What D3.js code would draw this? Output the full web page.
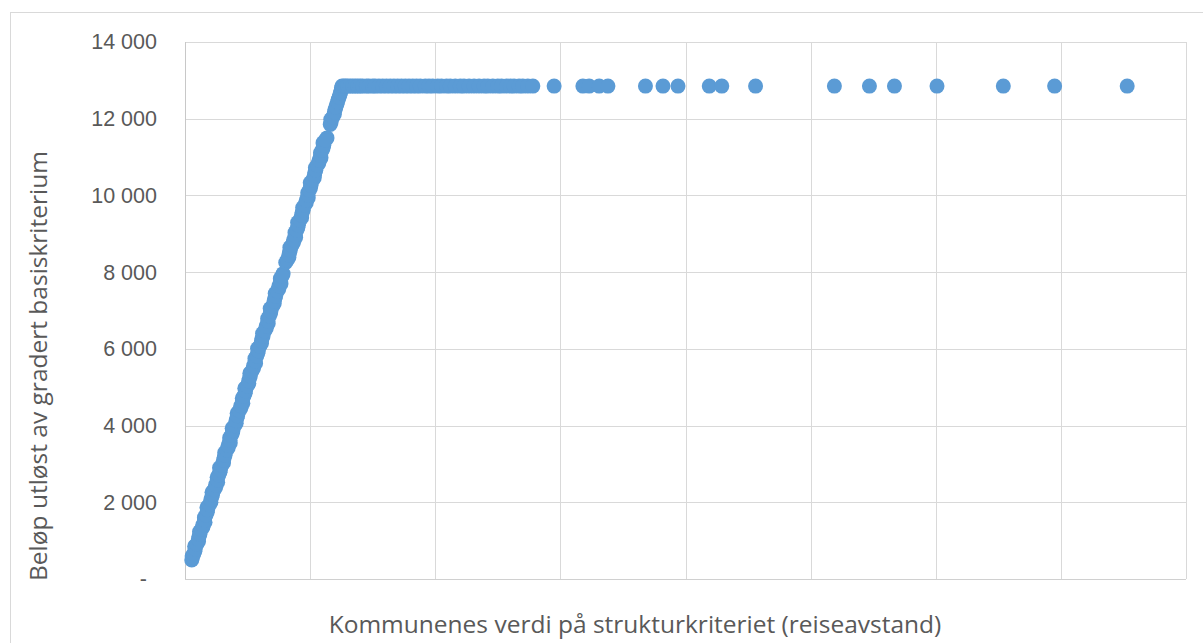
<!DOCTYPE html>
<html>
<head>
<meta charset="utf-8">
<script src="https://cdn.jsdelivr.net/npm/d3@7"></script>
<style>
  body { margin: 0; background: #fff; }
  svg { display: block; font-family: "Open Sans", "Noto Sans", sans-serif; }
</style>
</head>
<body>
<svg id="chart" width="1203" height="643"></svg>
<script>
// rising part of the curve (x = structure criterion, y = amount)
var riseX = [0.054, 0.057, 0.078, 0.077, 0.108, 0.112, 0.116, 0.143, 0.160, 0.155,
  0.177, 0.176, 0.207, 0.212, 0.216, 0.245, 0.261, 0.257, 0.279, 0.276,
  0.308, 0.313, 0.317, 0.345, 0.362, 0.357, 0.378, 0.377, 0.409, 0.413,
  0.417, 0.446, 0.462, 0.458, 0.480, 0.478, 0.510, 0.515, 0.518, 0.547,
  0.564, 0.559, 0.581, 0.580, 0.611, 0.616, 0.620, 0.649, 0.665, 0.661,
  0.683, 0.681, 0.713, 0.718, 0.721, 0.750, 0.767, 0.762, 0.784, 0.805,
  0.830, 0.835, 0.838, 0.867, 0.884, 0.879, 0.901, 0.900, 0.932, 0.936,
  0.940, 0.969, 0.985, 0.981, 1.003, 1.001, 1.033, 1.038, 1.042, 1.070,
  1.087, 1.083, 1.104, 1.103, 1.135, 1.161, 1.165, 1.193, 1.200, 1.213,
  1.225, 1.237, 1.249]
var riseY = [495, 600, 720, 850, 980, 1100, 1230, 1350, 1480, 1600,
  1740, 1870, 2000, 2130, 2260, 2390, 2520, 2650, 2780, 2900,
  3030, 3160, 3290, 3420, 3550, 3680, 3800, 3930, 4060, 4190,
  4320, 4450, 4580, 4710, 4840, 4970, 5100, 5230, 5360, 5490,
  5620, 5750, 5880, 6010, 6140, 6270, 6400, 6530, 6660, 6790,
  6920, 7050, 7180, 7310, 7440, 7570, 7700, 7830, 7960, 8250,
  8380, 8510, 8640, 8770, 8900, 9030, 9160, 9290, 9420, 9550,
  9680, 9810, 9940, 10070, 10200, 10330, 10460, 10590, 10720, 10850,
  10980, 11110, 11240, 11370, 11500, 11850, 11980, 12110, 12240, 12370,
  12500, 12620, 12740]

// more municipalities in between on the rising part
var riseMidX = [0.060, 0.070, 0.082, 0.095, 0.107, 0.119, 0.131, 0.143, 0.156, 0.168,
  0.181, 0.194, 0.207, 0.220, 0.232, 0.245, 0.258, 0.270, 0.283, 0.295,
  0.307, 0.320, 0.333, 0.345, 0.358, 0.370, 0.383, 0.395, 0.408, 0.421,
  0.433, 0.446, 0.459, 0.471, 0.484, 0.497, 0.509, 0.522, 0.535, 0.548,
  0.560, 0.573, 0.586, 0.598, 0.611, 0.624, 0.636, 0.649, 0.662, 0.674,
  0.687, 0.700, 0.712, 0.725, 0.738, 0.750, 0.763, 0.776, 0.817, 0.830,
  0.842, 0.855, 0.868, 0.880, 0.893, 0.906, 0.918, 0.931, 0.944, 0.956,
  0.969, 0.982, 0.994, 1.007, 1.020, 1.033, 1.045, 1.058, 1.071, 1.083,
  1.096, 1.109, 1.121, 1.168, 1.181, 1.194, 1.206, 1.219, 1.231, 1.243,
  1.250]
var riseMidY = [560, 660, 785, 915, 1040, 1165, 1290, 1415, 1540, 1670,
  1805, 1935, 2065, 2195, 2325, 2455, 2585, 2715, 2840, 2965,
  3095, 3225, 3355, 3485, 3615, 3740, 3865, 3995, 4125, 4255,
  4385, 4515, 4645, 4775, 4905, 5035, 5165, 5295, 5425, 5555,
  5685, 5815, 5945, 6075, 6205, 6335, 6465, 6595, 6725, 6855,
  6985, 7115, 7245, 7375, 7505, 7635, 7765, 7895, 8315, 8445,
  8575, 8705, 8835, 8965, 9095, 9225, 9355, 9485, 9615, 9745,
  9875, 10005, 10135, 10265, 10395, 10525, 10655, 10785, 10915, 11045,
  11175, 11305, 11435, 11915, 12045, 12175, 12305, 12435, 12560, 12680,
  12800]

// flat part (capped amount)
var flatX = [1.255, 1.27, 1.285, 1.30, 1.32, 1.34, 1.36, 1.38, 1.40, 1.42,
  1.45, 1.47, 1.50, 1.52, 1.55, 1.58, 1.61, 1.64, 1.67, 1.70,
  1.73, 1.76, 1.79, 1.82, 1.85, 1.88, 1.92, 1.95, 1.98, 2.02,
  2.05, 2.09, 2.12, 2.16, 2.20, 2.23, 2.27, 2.31, 2.35, 2.39,
  2.42, 2.46, 2.50, 2.53, 2.57, 2.60, 2.63, 2.67, 2.70, 2.74,
  2.78, 2.95, 3.18, 3.23, 3.31, 3.38, 3.68, 3.82, 3.94, 4.19,
  4.29, 4.56, 5.19, 5.47, 5.67, 6.01, 6.54, 6.95, 7.53]
var flatY = [12850, 12850, 12850, 12850, 12850, 12850, 12850, 12850, 12850, 12850,
  12850, 12850, 12850, 12850, 12850, 12850, 12850, 12850, 12850, 12850,
  12850, 12850, 12850, 12850, 12850, 12850, 12850, 12850, 12850, 12850,
  12850, 12850, 12850, 12850, 12850, 12850, 12850, 12850, 12850, 12850,
  12850, 12850, 12850, 12850, 12850, 12850, 12850, 12850, 12850, 12850,
  12850, 12850, 12850, 12850, 12850, 12850, 12850, 12850, 12850, 12850,
  12850, 12850, 12850, 12850, 12850, 12850, 12850, 12850, 12850]

var xGrid = [0, 1, 2, 3, 4, 5, 6, 7, 8]
var yTicks = [0, 2000, 4000, 6000, 8000, 10000, 12000, 14000]
var yTitle = "Beløp utløst av gradert basiskriterium"
var xTitle = "Kommunenes verdi på strukturkriteriet (reiseavstand)"

var points = []
for (var i = 0; i < riseX.length; i++) points.push([riseX[i], riseY[i]])
for (var k = 0; k < riseMidX.length; k++) points.push([riseMidX[k], riseMidY[k]])
for (var j = 0; j < flatX.length; j++) points.push([flatX[j], flatY[j]])

var svg = d3.select("#chart"),
    margin = { top: 42, right: 17, bottom: 64, left: 185 },
    width = +svg.attr("width") - margin.left - margin.right,
    height = +svg.attr("height") - margin.top - margin.bottom

// chart frame
svg.append("rect")
    .attr("x", 10.5).attr("y", 12.5)
    .attr("width", 1210).attr("height", 700)
    .attr("fill", "none").attr("stroke", "#d9d9d9")

var g = svg.append("g").attr("transform", "translate(" + margin.left + "," + margin.top + ")")

var x = d3.scaleLinear().domain([0, 8]).range([0, width])
var y = d3.scaleLinear().domain([0, 14000]).range([height, 0])

// gridlines
g.append("g")
    .selectAll("line")
    .data(yTicks)
    .enter().append("line")
    .attr("x1", 0).attr("x2", width)
    .attr("y1", function (d) { return Math.round(y(d)) + 0.5 })
    .attr("y2", function (d) { return Math.round(y(d)) + 0.5 })
    .attr("stroke", "#d9d9d9")

g.append("g")
    .selectAll("line")
    .data(xGrid)
    .enter().append("line")
    .attr("x1", function (d) { return Math.round(x(d)) + 0.5 })
    .attr("x2", function (d) { return Math.round(x(d)) + 0.5 })
    .attr("y1", 0).attr("y2", height)
    .attr("stroke", "#d9d9d9")

// axis lines
g.append("line")
    .attr("x1", 0.5).attr("x2", 0.5).attr("y1", 0).attr("y2", height + 0.5)
    .attr("stroke", "#c8c8c8")
g.append("line")
    .attr("x1", 0).attr("x2", width).attr("y1", height + 0.5).attr("y2", height + 0.5)
    .attr("stroke", "#d0d0d0")

// y axis labels
var fmt = d3.format(",")
var yAxis = g.append("g")
    .call(d3.axisLeft(y).tickValues(yTicks).tickSize(0).tickPadding(28)
        .tickFormat(function (d) { return d === 0 ? "-" : fmt(d).replace(/,/g, " ") }))
yAxis.select(".domain").remove()
yAxis.selectAll("text")
    .attr("fill", "#595959")
    .style("font-size", "21.5px")
    .attr("dx", function (d) { return d === 0 ? "-10" : "0" })

// points
g.selectAll(".dot")
    .data(points)
    .enter().append("circle")
    .attr("class", "dot")
    .attr("cx", function (d) { return x(d[0]) })
    .attr("cy", function (d) { return y(d[1]) })
    .attr("r", 7.5)
    .attr("fill", "#5b9bd5")

// axis titles
svg.append("text")
    .attr("transform", "translate(47,366) rotate(-90)")
    .attr("text-anchor", "middle")
    .attr("fill", "#595959")
    .style("font-size", "24.5px")
    .text(yTitle)

svg.append("text")
    .attr("x", 635).attr("y", 633)
    .attr("text-anchor", "middle")
    .attr("fill", "#595959")
    .style("font-size", "24.5px")
    .text(xTitle)
</script>
</body>
</html>
